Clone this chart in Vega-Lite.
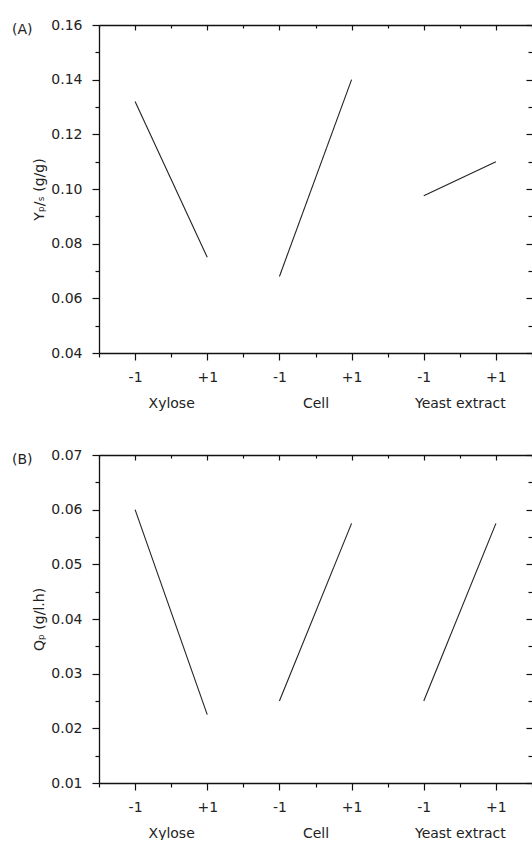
{
  "$schema": "https://vega.github.io/schema/vega-lite/v6.json",
  "padding": {"left": 12, "top": 18, "right": 0, "bottom": 0},
  "spacing": 38,
  "data": {"values": [
    {"panel": "A", "factor": "Xylose", "pos": 1, "value": 0.132},
    {"panel": "A", "factor": "Xylose", "pos": 3, "value": 0.075},
    {"panel": "A", "factor": "Cell", "pos": 5, "value": 0.068},
    {"panel": "A", "factor": "Cell", "pos": 7, "value": 0.140},
    {"panel": "A", "factor": "Yeast extract", "pos": 9, "value": 0.0975},
    {"panel": "A", "factor": "Yeast extract", "pos": 11, "value": 0.110},
    {"panel": "B", "factor": "Xylose", "pos": 1, "value": 0.060},
    {"panel": "B", "factor": "Xylose", "pos": 3, "value": 0.0225},
    {"panel": "B", "factor": "Cell", "pos": 5, "value": 0.025},
    {"panel": "B", "factor": "Cell", "pos": 7, "value": 0.0575},
    {"panel": "B", "factor": "Yeast extract", "pos": 9, "value": 0.025},
    {"panel": "B", "factor": "Yeast extract", "pos": 11, "value": 0.0575}
  ]},
  "config": {
    "font": "DejaVu Sans",
    "view": {"stroke": null},
    "axis": {"grid": false, "domainColor": "#111", "domainWidth": 1.3, "tickColor": "#111", "tickWidth": 1.2, "labelColor": "#222", "labelFont": "DejaVu Sans", "labelFontSize": 14, "titleFont": "DejaVu Sans", "titleFontSize": 14, "titleFontWeight": "normal", "titleColor": "#222"},
    "title": {"font": "DejaVu Sans", "fontSize": 14, "fontWeight": "normal", "color": "#222"}
  },
  "vconcat": [
    {
      "width": 433, "height": 328,
      "title": {"text": "(A)", "anchor": "start", "frame": "group", "dx": -87, "dy": 19, "offset": 0},
      "transform": [{"filter": "datum.panel === 'A'"}],
      "resolve": {"axis": {"x": "independent", "y": "independent"}},
      "layer": [
        {
          "mark": {"type": "line", "color": "#222", "strokeWidth": 1.1},
          "encoding": {
            "x": {"field": "pos", "type": "quantitative", "scale": {"domain": [0, 12], "nice": false, "zero": false},
              "axis": {"orient": "bottom", "title": null, "values": [0,1,2,3,4,5,6,7,8,9,10,11,12],
                "labelExpr": "datum.value % 2 == 1 ? (datum.value % 4 == 1 ? '-1' : '+1') : (datum.value == 2 ? ['', 'Xylose'] : datum.value == 6 ? ['', 'Cell'] : datum.value == 10 ? ['', 'Yeast extract'] : '')",
                "labelOverlap": false, "labelFlush": false, "labelBound": false, "labelPadding": 10, "labelLineHeight": 29,
                "tickSize": {"condition": {"test": "datum.value % 2 == 1", "value": 7}, "value": 4}}},
            "y": {"field": "value", "type": "quantitative", "scale": {"domain": [0.04, 0.16], "nice": false, "zero": false},
              "axis": {"orient": "left", "title": "Yₚ/ₛ (g/g)", "values": [0.04,0.05,0.06,0.07,0.08,0.09,0.10,0.11,0.12,0.13,0.14,0.15,0.16],
                "labelExpr": "round(datum.value*100) % 2 == 0 ? format(datum.value, '.2f') : ''",
                "labelOverlap": false, "labelFlush": false, "labelPadding": 10, "titlePadding": 4,
                "tickSize": {"condition": {"test": "round(datum.value*100) % 2 == 0", "value": 7}, "value": 4}}},
            "detail": {"field": "factor"}
          }
        },
        {
          "mark": {"type": "line", "strokeOpacity": 0},
          "encoding": {
            "x": {"field": "pos", "type": "quantitative",
              "axis": {"orient": "top", "title": null, "labels": false, "values": [0,1,2,3,4,5,6,7,8,9,10,11,12],
                "tickSize": {"condition": {"test": "datum.value % 2 == 1", "value": -5}, "value": -3}}},
            "y": {"field": "value", "type": "quantitative",
              "axis": {"orient": "right", "title": null, "labels": false, "domain": false, "values": [0.04,0.05,0.06,0.07,0.08,0.09,0.10,0.11,0.12,0.13,0.14,0.15,0.16],
                "tickSize": {"condition": {"test": "round(datum.value*100) % 2 == 0", "value": -6}, "value": -4}}},
            "detail": {"field": "factor"}
          }
        }
      ]
    },
    {
      "width": 433, "height": 328,
      "title": {"text": "(B)", "anchor": "start", "frame": "group", "dx": -87, "dy": 19, "offset": 0},
      "transform": [{"filter": "datum.panel === 'B'"}],
      "resolve": {"axis": {"x": "independent", "y": "independent"}},
      "layer": [
        {
          "mark": {"type": "line", "color": "#222", "strokeWidth": 1.1},
          "encoding": {
            "x": {"field": "pos", "type": "quantitative", "scale": {"domain": [0, 12], "nice": false, "zero": false},
              "axis": {"orient": "bottom", "title": null, "values": [0,1,2,3,4,5,6,7,8,9,10,11,12],
                "labelExpr": "datum.value % 2 == 1 ? (datum.value % 4 == 1 ? '-1' : '+1') : (datum.value == 2 ? ['', 'Xylose'] : datum.value == 6 ? ['', 'Cell'] : datum.value == 10 ? ['', 'Yeast extract'] : '')",
                "labelOverlap": false, "labelFlush": false, "labelBound": false, "labelPadding": 10, "labelLineHeight": 29,
                "tickSize": {"condition": {"test": "datum.value % 2 == 1", "value": 7}, "value": 4}}},
            "y": {"field": "value", "type": "quantitative", "scale": {"domain": [0.01, 0.07], "nice": false, "zero": false},
              "axis": {"orient": "left", "title": "Qₚ (g/l.h)", "values": [0.01,0.015,0.02,0.025,0.03,0.035,0.04,0.045,0.05,0.055,0.06,0.065,0.07],
                "labelExpr": "round(datum.value*1000) % 10 == 0 ? format(datum.value, '.2f') : ''",
                "labelOverlap": false, "labelFlush": false, "labelPadding": 10, "titlePadding": 4,
                "tickSize": {"condition": {"test": "round(datum.value*1000) % 10 == 0", "value": 7}, "value": 4}}},
            "detail": {"field": "factor"}
          }
        },
        {
          "mark": {"type": "line", "strokeOpacity": 0},
          "encoding": {
            "x": {"field": "pos", "type": "quantitative",
              "axis": {"orient": "top", "title": null, "labels": false, "values": [0,1,2,3,4,5,6,7,8,9,10,11,12],
                "tickSize": {"condition": {"test": "datum.value % 2 == 1", "value": -5}, "value": -3}}},
            "y": {"field": "value", "type": "quantitative",
              "axis": {"orient": "right", "title": null, "labels": false, "domain": false, "values": [0.01,0.015,0.02,0.025,0.03,0.035,0.04,0.045,0.05,0.055,0.06,0.065,0.07],
                "tickSize": {"condition": {"test": "round(datum.value*1000) % 10 == 0", "value": -6}, "value": -4}}},
            "detail": {"field": "factor"}
          }
        }
      ]
    }
  ]
}
